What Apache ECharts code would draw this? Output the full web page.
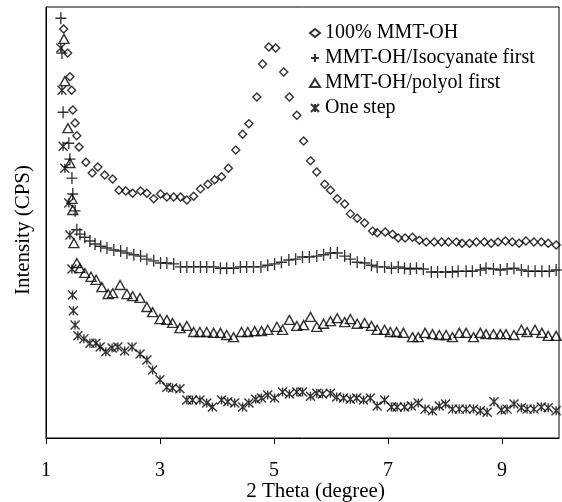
<!DOCTYPE html>
<html>
<head>
<meta charset="utf-8">
<script src="https://cdn.jsdelivr.net/npm/echarts@6/dist/echarts.min.js"></script>
<style>html,body{margin:0;padding:0;background:#fff}#c{width:562px;height:502px}</style>
</head>
<body>
<div id="c"></div>
<script>
const seriesNames = ['100% MMT-OH', 'MMT-OH/Isocyanate first', 'MMT-OH/polyol first', 'One step'];
const xTickLabels = [1, 3, 5, 7, 9];

const mmtOhX = [1.31,1.38,1.42,1.45,1.47,1.51,1.54,1.58,1.70,1.81,1.91,2.03,2.17,2.28,2.40,2.52,2.66,2.77,2.89,3.01,3.12,3.24,3.36,3.47,3.59,3.71,3.84,3.96,4.08,4.20,4.33,4.45,4.56,4.70,4.80,4.91,5.03,5.17,5.27,5.40,5.52,5.64,5.75,5.89,5.99,6.11,6.24,6.34,6.46,6.59,6.73,6.81,6.95,7.08,7.18,7.30,7.43,7.55,7.67,7.81,7.94,8.06,8.20,8.30,8.43,8.55,8.69,8.81,8.93,9.06,9.18,9.30,9.42,9.56,9.69,9.81,9.95];
const mmtOhY = [94.9,89.3,83.8,80.7,76.1,73.1,70.1,67.5,64.0,61.5,62.9,61.0,60.1,57.5,57.3,56.8,57.3,56.8,55.5,56.6,55.9,55.9,55.9,55.2,56.1,57.8,58.9,59.9,60.6,62.6,66.8,70.5,72.9,79.1,86.8,90.7,90.5,84.9,79.1,74.9,68.9,64.3,61.7,58.9,57.5,55.5,54.3,52.0,51.0,49.9,48.0,47.6,47.8,47.3,46.4,46.4,46.6,45.9,45.5,45.5,45.5,45.5,45.5,45.2,45.2,45.5,45.5,45.2,45.5,45.7,45.5,45.2,45.7,45.5,45.5,45.2,44.8];

const isoX = [1.26,1.28,1.30,1.40,1.42,1.455,1.47,1.51,1.54,1.595,1.68,1.77,1.86,1.96,2.07,2.19,2.31,2.42,2.54,2.66,2.77,2.89,3.01,3.12,3.24,3.36,3.47,3.59,3.71,3.82,3.94,4.06,4.17,4.29,4.41,4.52,4.64,4.77,4.89,5.01,5.13,5.26,5.38,5.50,5.62,5.75,5.87,5.99,6.11,6.24,6.34,6.46,6.59,6.71,6.81,6.94,7.06,7.18,7.29,7.39,7.50,7.62,7.76,7.87,8.01,8.13,8.23,8.37,8.48,8.62,8.72,8.85,8.97,9.09,9.21,9.34,9.46,9.58,9.70,9.83,9.95];
const isoY = [97.4,89.3,75.6,68.4,64.7,60.3,56.6,52.7,48.3,47.3,46.6,45.7,45.0,44.5,44.1,43.6,43.4,42.9,42.5,42.2,41.5,41.1,40.6,40.6,40.4,39.7,39.7,39.7,39.7,39.7,39.7,39.4,39.4,39.4,39.7,39.7,39.7,39.7,40.1,40.4,40.8,41.3,41.5,42.0,42.0,42.2,42.5,42.9,42.9,42.2,41.5,40.8,40.6,40.1,39.7,39.7,39.4,39.7,39.4,39.2,39.4,39.2,38.5,38.5,38.5,38.5,38.7,38.7,38.7,39.0,39.4,39.2,39.0,39.2,39.4,39.0,38.7,38.7,38.7,38.7,39.0];

const polyolX = [1.315,1.33,1.385,1.42,1.455,1.47,1.49,1.54,1.595,1.68,1.79,1.88,1.98,2.09,2.17,2.30,2.42,2.52,2.65,2.77,2.87,3.00,3.12,3.22,3.35,3.47,3.59,3.70,3.82,3.94,4.06,4.17,4.29,4.43,4.54,4.66,4.78,4.89,5.05,5.15,5.27,5.40,5.52,5.64,5.75,5.87,5.99,6.11,6.24,6.34,6.46,6.59,6.71,6.81,6.94,7.04,7.15,7.27,7.43,7.53,7.65,7.78,7.90,8.02,8.13,8.25,8.37,8.50,8.62,8.72,8.85,8.97,9.07,9.21,9.34,9.44,9.58,9.70,9.81,9.95];
const polyolY = [92.6,82.8,71.9,63.8,55.5,52.9,45.2,40.6,39.4,38.3,37.4,36.7,35.0,33.4,33.6,35.5,33.4,32.9,32.5,30.4,29.2,27.6,27.4,26.7,25.5,26.0,24.6,24.6,24.6,24.4,24.4,23.9,23.4,24.6,24.6,24.8,24.8,25.1,25.8,25.1,27.4,26.0,26.2,28.1,25.8,26.5,27.1,27.8,26.9,27.6,26.5,26.7,26.0,25.1,25.1,24.6,24.6,24.4,23.4,23.4,24.4,24.1,23.9,23.9,23.4,24.4,24.4,23.4,24.4,24.1,24.1,24.1,24.1,23.9,25.1,24.6,25.1,24.4,23.7,23.7];

const oneStepX = [1.26,1.28,1.30,1.33,1.40,1.42,1.455,1.465,1.48,1.51,1.56,1.665,1.77,1.875,1.95,2.05,2.16,2.26,2.38,2.51,2.65,2.77,2.87,3.00,3.12,3.22,3.35,3.47,3.57,3.70,3.82,3.92,4.08,4.19,4.31,4.45,4.56,4.68,4.78,4.89,5.01,5.15,5.27,5.40,5.50,5.64,5.75,5.85,5.99,6.10,6.22,6.34,6.45,6.57,6.69,6.81,6.94,7.06,7.16,7.29,7.41,7.53,7.65,7.78,7.90,8.01,8.13,8.25,8.37,8.50,8.62,8.74,8.86,8.99,9.09,9.21,9.34,9.44,9.56,9.69,9.81,9.95];
const oneStepY = [90.5,80.7,67.7,62.6,54.5,47.1,39.2,33.2,29.5,26.2,23.7,23.0,22.0,22.0,21.1,20.0,20.9,21.1,20.2,21.1,19.5,18.1,15.8,13.5,11.8,11.6,11.4,8.8,8.8,8.8,8.1,7.2,8.8,8.4,8.1,7.2,8.1,9.0,9.3,10.0,9.3,10.7,10.2,10.7,10.7,9.7,10.4,10.2,10.4,9.5,9.3,9.0,9.3,8.8,9.3,7.4,8.8,7.2,7.2,7.2,7.4,8.1,6.7,6.3,7.4,7.9,6.7,6.7,6.7,6.7,6.3,6.0,8.4,6.5,6.7,7.9,7.0,6.7,6.7,7.2,7.0,6.3];

function pairs(xs, ys) { return xs.map((x, i) => [x, ys[i]]); }

const FONT = '"Liberation Serif", "Times New Roman", serif';
const hollow = { color: 'transparent', borderColor: '#000', borderWidth: 1.4 };

const chart = echarts.init(document.getElementById('c'), null, { renderer: 'canvas' });
chart.setOption({
  animation: false,
  backgroundColor: '#fff',
  textStyle: { fontFamily: FONT, color: '#000' },
  grid: { left: 46, right: 3, top: 7, bottom: 64, show: true, borderColor: '#000', borderWidth: 1, containLabel: false, outerBoundsMode: 'none' },
  legend: {
    orient: 'vertical', left: 309, top: 23, padding: 0, itemGap: 5,
    itemWidth: 10, itemHeight: 8,
    textStyle: { fontFamily: FONT, fontSize: 20, color: '#000', lineHeight: 20 },
    data: seriesNames
  },
  xAxis: {
    type: 'value', min: 1, max: 10,
    name: '2 Theta (degree)', nameLocation: 'middle', nameGap: 43, nameMoveOverlap: false,
    nameTextStyle: { fontFamily: FONT, fontSize: 21, color: '#000', padding: [0, 0, 0, 26] },
    axisLine: { lineStyle: { color: '#000', width: 1 } },
    axisTick: { show: true, inside: false, length: 6, lineStyle: { color: '#000' }, customValues: xTickLabels },
    axisLabel: { fontFamily: FONT, fontSize: 20, color: '#000', margin: 23, customValues: xTickLabels },
    splitLine: { show: false }
  },
  yAxis: {
    type: 'value', min: 0, max: 100,
    name: 'Intensity (CPS)', nameLocation: 'middle', nameGap: 12, nameMoveOverlap: false,
    nameTextStyle: { fontFamily: FONT, fontSize: 21, color: '#000', padding: [0, 15, 0, 0] },
    axisLine: { show: true, lineStyle: { color: '#000' } },
    axisTick: { show: false }, axisLabel: { show: false }, splitLine: { show: false }
  },
  series: [
    { name: seriesNames[0], type: 'scatter', symbol: 'diamond', symbolSize: 8, itemStyle: hollow, data: pairs(mmtOhX, mmtOhY) },
    { name: seriesNames[1], type: 'scatter', symbol: 'path://M5,0L5,10M0,5L10,5', symbolSize: [11, 12], itemStyle: hollow, data: pairs(isoX, isoY) },
    { name: seriesNames[2], type: 'scatter', symbol: 'triangle', symbolSize: [10, 9], itemStyle: hollow, data: pairs(polyolX, polyolY) },
    { name: seriesNames[3], type: 'scatter', symbol: 'path://M0,0L10,10M10,0L0,10M5,0L5,10', symbolSize: [9, 9], itemStyle: hollow, data: pairs(oneStepX, oneStepY) }
  ]
});
</script>
</body>
</html>
